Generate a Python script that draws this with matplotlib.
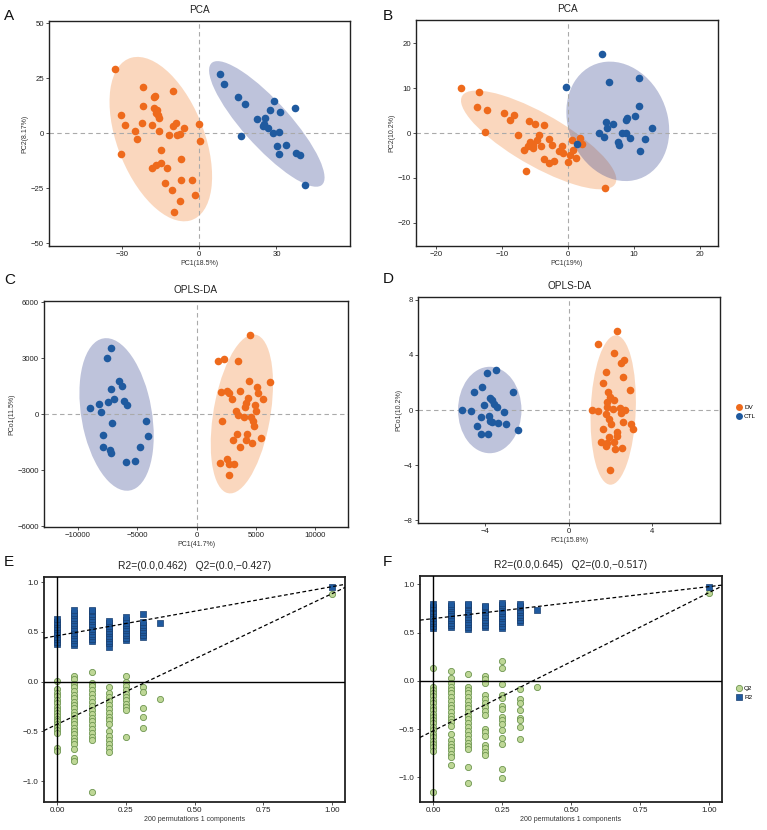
import matplotlib
matplotlib.use("Agg")
import matplotlib.pyplot as plt
from matplotlib.patches import Ellipse
from matplotlib.lines import Line2D

plt.rcParams["font.family"] = ["Liberation Sans", "DejaVu Sans"]

# colours
ORANGE = "#EE6A1C"
BLUE = "#1F5A9F"
ORANGE_FILL = "#F0883C"
BLUE_FILL = "#3B4992"
GREEN = "#BED796"
GREEN_EDGE = "#6E9650"
BLUE_EDGE = "#1A3F70"

# ---------- Panel A: PCA ----------
A_DV_X = [-32.5, -21.7, -17.2, -17.6, -10.2, -21.7, -30.1, -17.6, -16.8, -15.8,
          -15.5, -28.7, -25.0, -24.0, -22.1, -18.1, -15.4, -30.1, -10.3, -8.8,
          -5.9, -11.6, -8.4, -7.5, 0.0, 0.4, -14.7, -6.9, -18.2, -16.6,
          -14.6, -12.3, -13.3, -10.7, -6.9, -2.6, -1.7, -7.4, -9.8, -16.2]
A_DV_Y = [29.4, 20.8, 17.0, 16.6, 19.0, 12.4, 8.1, 11.3, 9.0, 8.3,
          6.8, 3.8, 1.2, -2.7, 4.5, 3.8, 1.1, -9.4, 3.3, 4.5,
          2.6, -0.6, -0.9, -0.3, 4.2, -3.3, -7.5, -11.8, -15.8, -14.6,
          -13.3, -15.8, -22.6, -25.6, -21.4, -21.4, -28.2, -30.6, -35.9, 10.5]
A_CTL_X = [8.0, 9.6, 15.0, 17.6, 29.2, 37.0, 27.4, 31.3, 22.3, 25.5,
           24.8, 26.8, 28.5, 31.0, 16.2, 30.3, 33.6, 30.8, 37.5, 39.1, 41.1, 25.0]
A_CTL_Y = [26.8, 22.3, 16.3, 13.3, 14.8, 11.5, 10.6, 9.7, 6.5, 7.1,
           3.3, 2.3, 0.0, 0.8, -1.2, -6.0, -5.4, -9.4, -9.0, -9.8, -23.5, 4.0]
# ellipse: centre x, centre y, semi-major, semi-minor, angle (deg)
A_DV_ELL = (-14.85, -2.65, 38.7, 17.1, 107.0)
A_CTL_ELL = (26.25, 4.25, 35.0, 9.5, -53.0)

# ---------- Panel B: PCA ----------
B_DV_X = [-16.1, -13.4, -13.7, -12.3, -12.6, -9.7, -8.8, -8.1, -5.9, -4.9,
          -3.6, -7.5, -4.3, -4.7, -2.9, -6.0, -5.3, -6.6, -4.0, -2.3,
          -0.9, -3.6, -2.9, -2.1, -1.3, -0.7, 0.0, 0.4, 0.8, 0.6,
          1.8, 2.1, 1.3, -6.3, 5.7, -5.3, -5.7]
B_DV_Y = [10.0, 9.1, 5.8, 5.1, 0.3, 4.4, 3.0, 4.0, 2.7, 2.0,
          1.8, -0.4, -0.5, -1.5, -1.3, -3.0, -3.3, -3.7, -3.0, -2.7,
          -3.0, -5.8, -6.7, -6.2, -4.1, -4.4, -6.4, -4.8, -3.9, -1.5,
          -1.2, -2.4, -5.6, -8.4, -12.3, -2.7, -2.1]
B_CTL_X = [5.2, -0.25, 6.2, 10.8, 10.8, 10.2, 9.0, 8.9, 5.8, 6.9,
           6.0, 12.8, 4.7, 5.5, 8.3, 8.9, 9.4, 7.7, 7.8, 11.8, 10.9, 1.4]
B_CTL_Y = [17.6, 10.2, 11.3, 12.2, 6.0, 3.8, 3.4, 3.0, 2.4, 2.0,
           1.1, 1.1, -0.1, -1.0, -0.1, 0.0, -1.2, -1.9, -2.7, -1.3, -4.0, -2.4]
B_DV_ELL = (-4.4, -1.55, 15.3, 5.1, -42.6)
B_CTL_ELL = (7.6, 2.6, 13.4, 7.66, -82.3)

# ---------- Panel C: OPLS-DA ----------
C_CTL_X = [-7203, -7571, -6554, -6271, -7203, -8983, -8249, -8023, -7458, -6977,
           -6158, -5847, -7175, -4237, -4068, -7910, -7910, -7288, -7260, -4802,
           -5932, -5169]
C_CTL_Y = [3542, 3023, 1771, 1503, 1360, 358, 555, 107, 644, 805,
           733, 483, -465, -340, -1181, -1091, -1735, -1914, -2075, -1771,
           -2558, -2504]
C_DV_X = [4520, 1808, 2345, 3446, 6215, 4379, 2062, 2542, 2712, 3616,
          5085, 2938, 5169, 5565, 4350, 4181, 4068, 3277, 4887, 5028,
          3475, 4011, 4576, 4746, 4859, 2175, 3390, 3051, 4237, 4153,
          4661, 5424, 3616, 2599, 1977, 2712, 3107, 2768]
C_DV_Y = [4258, 2880, 2970, 2880, 1753, 1807, 1181, 1234, 1163, 1270,
          1485, 805, 1127, 823, 859, 590, 376, 197, 519, 197,
          -54, -161, -161, -340, -608, -376, -1055, -1377, -1055, -1377,
          -1521, -1270, -1771, -2397, -2630, -2665, -2665, -3238]
C_CTL_ELL = (-6751, -9, 4270, 2881, -67.0)
C_DV_ELL = (3813, 18, 4420, 2345, 71.6)

# ---------- Panel D: OPLS-DA ----------
D_CTL_X = [-3.90, -3.50, -4.16, -4.56, -2.67, -3.79, -3.66, -4.08, -3.60, -3.44,
           -5.10, -4.67, -3.10, -4.19, -3.82, -3.79, -3.68, -3.41, -3.02, -4.40,
           -2.43, -4.22, -3.86]
D_CTL_Y = [2.66, 2.90, 1.69, 1.28, 1.28, 0.85, 0.72, 0.34, 0.43, 0.19,
           0.00, -0.05, -0.17, -0.48, -0.41, -0.77, -0.89, -0.97, -1.01, -1.16,
           -1.45, -1.76, -1.76]
D_DV_X = [2.29, 1.42, 2.18, 2.66, 2.51, 1.78, 2.61, 1.62, 2.94, 1.87,
          1.97, 2.18, 1.84, 1.09, 1.41, 1.81, 2.13, 2.45, 2.69, 2.48,
          1.78, 1.94, 2.02, 2.58, 2.99, 3.06, 1.62, 2.29, 2.32, 1.94,
          1.55, 1.81, 1.78, 2.16, 2.54, 2.22, 1.97]
D_DV_Y = [5.75, 4.78, 4.11, 3.62, 3.38, 2.73, 2.39, 1.93, 1.43, 1.28,
          0.97, 0.72, 0.60, 0.00, -0.07, 0.24, 0.07, 0.12, 0.00, -0.24,
          -0.29, -0.68, -0.99, -0.87, -1.01, -1.35, -1.35, -1.62, -1.86, -1.93,
          -2.29, -2.37, -2.58, -2.32, -2.78, -2.85, -4.35]
D_CTL_ELL = (-3.79, 0.0, 3.14, 1.52, 90.0)
D_DV_ELL = (2.13, 0.0, 5.43, 1.08, 88.6)

# ---------- Panels E/F: permutation tests ----------
PERM_X = [0.0, 0.0625, 0.125, 0.1875, 0.25, 0.3125, 0.375, 1.0]

E_R2 = [
    [0.38, 0.40, 0.43, 0.45, 0.48, 0.50, 0.53, 0.55, 0.58, 0.60, 0.63],
    [0.37, 0.39, 0.42, 0.44, 0.47, 0.49, 0.52, 0.54, 0.57, 0.59, 0.62, 0.64, 0.67, 0.69, 0.72],
    [0.41, 0.43, 0.46, 0.48, 0.51, 0.53, 0.56, 0.58, 0.61, 0.63, 0.66, 0.68, 0.71, 0.72],
    [0.35, 0.39, 0.41, 0.44, 0.46, 0.49, 0.51, 0.54, 0.56, 0.59, 0.61],
    [0.42, 0.44, 0.47, 0.49, 0.52, 0.54, 0.57, 0.59, 0.62, 0.65],
    [0.45, 0.47, 0.50, 0.52, 0.55, 0.57, 0.60, 0.68],
    [0.59],
    [0.955],
]
E_Q2 = [
    [0.01, -0.07, -0.11, -0.14, -0.18, -0.21, -0.25, -0.28, -0.31, -0.34,
     -0.37, -0.40, -0.43, -0.46, -0.49, -0.52, -0.67, -0.70],
    [0.06, 0.03, -0.02, -0.05, -0.09, -0.13, -0.16, -0.20, -0.23, -0.26,
     -0.30, -0.33, -0.36, -0.40, -0.43, -0.47, -0.50, -0.53, -0.57, -0.60,
     -0.63, -0.68, -0.77, -0.80],
    [0.10, -0.01, -0.04, -0.08, -0.12, -0.16, -0.20, -0.24, -0.28, -0.32,
     -0.36, -0.40, -0.44, -0.48, -0.52, -0.56, -0.59, -1.11],
    [-0.05, -0.11, -0.15, -0.19, -0.23, -0.27, -0.31, -0.35, -0.39, -0.43,
     -0.50, -0.55, -0.59, -0.63, -0.67, -0.71],
    [0.06, 0.00, -0.04, -0.08, -0.12, -0.15, -0.18, -0.22, -0.25, -0.28, -0.56],
    [-0.05, -0.10, -0.26, -0.35, -0.47],
    [-0.17],
    [0.885],
]
E_INTERCEPTS = (0.462, -0.427)

F_R2 = [
    [0.55, 0.57, 0.60, 0.62, 0.65, 0.67, 0.70, 0.72, 0.75, 0.77, 0.80],
    [0.555, 0.58, 0.60, 0.63, 0.65, 0.68, 0.70, 0.73, 0.75, 0.78, 0.80],
    [0.54, 0.56, 0.59, 0.61, 0.64, 0.66, 0.69, 0.71, 0.74, 0.76, 0.79, 0.80],
    [0.56, 0.58, 0.61, 0.63, 0.66, 0.68, 0.71, 0.73, 0.76, 0.78],
    [0.545, 0.57, 0.60, 0.62, 0.65, 0.67, 0.70, 0.72, 0.75, 0.77, 0.79, 0.81],
    [0.61, 0.63, 0.66, 0.68, 0.71, 0.73, 0.76, 0.78, 0.80],
    [0.73],
    [0.976],
]
F_Q2 = [
    [0.13, -0.06, -0.09, -0.13, -0.16, -0.20, -0.23, -0.27, -0.30, -0.34,
     -0.37, -0.41, -0.44, -0.48, -0.51, -0.55, -0.58, -0.62, -0.65, -0.69,
     -0.73, -1.155],
    [0.10, 0.03, -0.02, -0.06, -0.10, -0.13, -0.17, -0.21, -0.25, -0.28,
     -0.32, -0.36, -0.40, -0.43, -0.47, -0.55, -0.61, -0.65, -0.69, -0.72,
     -0.76, -0.79, -0.87],
    [0.07, -0.06, -0.09, -0.13, -0.17, -0.21, -0.25, -0.28, -0.32, -0.36,
     -0.40, -0.44, -0.48, -0.52, -0.56, -0.60, -0.64, -0.68, -0.71, -0.89, -1.06],
    [0.045, 0.02, -0.02, -0.15, -0.19, -0.23, -0.27, -0.31, -0.35, -0.50,
     -0.53, -0.57, -0.66, -0.70, -0.74, -0.77],
    [0.21, 0.13, -0.03, -0.15, -0.18, -0.26, -0.29, -0.37, -0.41, -0.45,
     -0.51, -0.59, -0.65, -0.91, -1.01],
    [-0.08, -0.19, -0.23, -0.30, -0.38, -0.41, -0.48, -0.60],
    [-0.065],
    [0.914],
]
F_INTERCEPTS = (0.645, -0.517)


# ---------- helpers ----------

def px_axes(fig, x0, y0, x1, y1):
    W, H = 767.0, 830.0
    return fig.add_axes([x0 / W, 1 - y1 / H, (x1 - x0) / W, (y1 - y0) / H])


def style_axes(ax, lw=1.0):
    for sp in ax.spines.values():
        sp.set_linewidth(lw)
        sp.set_color("#222222")
    ax.tick_params(length=2.2, width=0.6, labelsize=5.6, pad=1.5,
                   color="#333333", labelcolor="#222222")


def add_ellipse(ax, ell, color):
    cx, cy, a, b, ang = ell
    ax.add_patch(Ellipse((cx, cy), 2 * a, 2 * b, angle=ang, facecolor=color,
                         alpha=0.33, edgecolor="none", zorder=1))


def score_panel(ax, title, xlab, ylab, dv, ctl, dv_ell, ctl_ell,
                xlim, ylim, xticks, yticks):
    add_ellipse(ax, dv_ell, ORANGE_FILL)
    add_ellipse(ax, ctl_ell, BLUE_FILL)
    ax.axhline(0, color="#AAAAAA", lw=0.8, ls=(0, (4, 3)), zorder=2)
    ax.axvline(0, color="#AAAAAA", lw=0.8, ls=(0, (4, 3)), zorder=2)
    ax.scatter(dv[0], dv[1], s=30, color=ORANGE, lw=0, zorder=3, label="DV")
    ax.scatter(ctl[0], ctl[1], s=30, color=BLUE, lw=0, zorder=3, label="CTL")
    ax.set_xlim(*xlim)
    ax.set_ylim(*ylim)
    ax.set_xticks(xticks)
    ax.set_yticks(yticks)
    ax.set_title(title, fontsize=7.2, pad=5.5, color="#222222")
    ax.set_xlabel(xlab, fontsize=5.0, labelpad=1.5, color="#333333")
    ax.set_ylabel(ylab, fontsize=5.0, labelpad=1.5, color="#333333")
    style_axes(ax)


def perm_panel(ax, title, r2_cols, q2_cols, intercepts, ylim):
    qx, qy, rx, ry = [], [], [], []
    for x, col in zip(PERM_X, q2_cols):
        qx += [x] * len(col)
        qy += col
    for x, col in zip(PERM_X, r2_cols):
        rx += [x] * len(col)
        ry += col
    ax.scatter(qx, qy, s=20, marker="o", facecolor=GREEN, edgecolor=GREEN_EDGE,
               lw=0.6, zorder=3, label="Q2")
    ax.scatter(rx, ry, s=17, marker="s", facecolor=BLUE, edgecolor=BLUE_EDGE,
               lw=0.5, zorder=4, label="R2")
    ax.axhline(0, color="black", lw=1.0, zorder=5)
    ax.axvline(0, color="black", lw=1.0, zorder=5)
    ax.axline((0, intercepts[0]), (1.0, r2_cols[-1][0]), color="black",
              lw=0.9, ls=(0, (3, 2)), zorder=6)
    ax.axline((0, intercepts[1]), (1.0, q2_cols[-1][0]), color="black",
              lw=0.9, ls=(0, (3, 2)), zorder=6)
    ax.set_xlim(-0.0485, 1.047)
    ax.set_ylim(*ylim)
    ax.set_xticks([0, 0.25, 0.5, 0.75, 1.0])
    ax.set_xticklabels(["0.00", "0.25", "0.50", "0.75", "1.00"])
    ax.set_yticks([-1.0, -0.5, 0.0, 0.5, 1.0])
    ax.set_yticklabels(["\u22121.0", "\u22120.5", "0.0", "0.5", "1.0"])
    ax.set_title(title, fontsize=7.4, pad=5.5, color="#222222")
    ax.set_xlabel("200 permutations 1 components", fontsize=5.0,
                  labelpad=1.5, color="#333333")
    style_axes(ax, lw=1.3)
    ax.tick_params(labelsize=5.8)


# ---------- figure ----------

fig = plt.figure(figsize=(7.67, 8.30), dpi=100)

axA = px_axes(fig, 49, 21, 350, 246)
score_panel(axA, "PCA", "PC1(18.5%)", "PC2(8.17%)",
            (A_DV_X, A_DV_Y), (A_CTL_X, A_CTL_Y), A_DV_ELL, A_CTL_ELL,
            (-58.2, 58.5), (-51.2, 51.0), [-30, 0, 30], [-50, -25, 0, 25, 50])

axB = px_axes(fig, 416, 20, 718, 246)
score_panel(axB, "PCA", "PC1(19%)", "PC2(10.2%)",
            (B_DV_X, B_DV_Y), (B_CTL_X, B_CTL_Y), B_DV_ELL, B_CTL_ELL,
            (-23.0, 22.8), (-25.2, 25.2), [-20, -10, 0, 10, 20], [-20, -10, 0, 10, 20])

axC = px_axes(fig, 44, 301, 348, 527)
score_panel(axC, "OPLS-DA", "PC1(41.7%)", "PCo1(11.5%)",
            (C_DV_X, C_DV_Y), (C_CTL_X, C_CTL_Y), C_DV_ELL, C_CTL_ELL,
            (-12870, 12760), (-6040, 6070), [-10000, -5000, 0, 5000, 10000],
            [-6000, -3000, 0, 3000, 6000])

axD = px_axes(fig, 418, 297, 720, 523)
score_panel(axD, "OPLS-DA", "PC1(15.8%)", "PCo1(10.2%)",
            (D_DV_X, D_DV_Y), (D_CTL_X, D_CTL_Y), D_DV_ELL, D_CTL_ELL,
            (-7.23, 7.25), (-8.21, 8.21), [-4, 0, 4], [-8, -4, 0, 4, 8])

axE = px_axes(fig, 44, 577, 345, 802)
perm_panel(axE, "R2=(0.0,0.462)   Q2=(0.0,\u22120.427)", E_R2, E_Q2,
           E_INTERCEPTS, (-1.209, 1.052))

axF = px_axes(fig, 420, 576, 722, 802)
perm_panel(axF, "R2=(0.0,0.645)   Q2=(0.0,\u22120.517)", F_R2, F_Q2,
           F_INTERCEPTS, (-1.255, 1.086))

# legends
h_dv = Line2D([], [], marker="o", ls="", color=ORANGE, markersize=5, mew=0)
h_ctl = Line2D([], [], marker="o", ls="", color=BLUE, markersize=5, mew=0)
fig.legend([h_dv, h_ctl], ["DV", "CTL"], loc="center left",
           bbox_to_anchor=(730 / 767, 1 - 412 / 830), frameon=False,
           fontsize=4.6, handletextpad=0.3, labelspacing=0.6, handlelength=1.0)
h_q2 = Line2D([], [], marker="o", ls="", markerfacecolor=GREEN,
              markeredgecolor=GREEN_EDGE, markersize=4.5, mew=0.6)
h_r2 = Line2D([], [], marker="s", ls="", markerfacecolor=BLUE,
              markeredgecolor=BLUE_EDGE, markersize=4, mew=0.5)
fig.legend([h_q2, h_r2], ["Q2", "R2"], loc="center left",
           bbox_to_anchor=(730 / 767, 1 - 693 / 830), frameon=False,
           fontsize=4.6, handletextpad=0.3, labelspacing=0.6, handlelength=1.0)

# panel letters
for lab, x, y in [("A", 4, 16), ("B", 383, 16), ("C", 4, 280),
                  ("D", 383, 279), ("E", 4, 562), ("F", 383, 562)]:
    fig.text(x / 767, 1 - y / 830, lab, fontsize=11, ha="left", va="center",
             color="#111111")

fig.savefig("out.png", dpi=100)
